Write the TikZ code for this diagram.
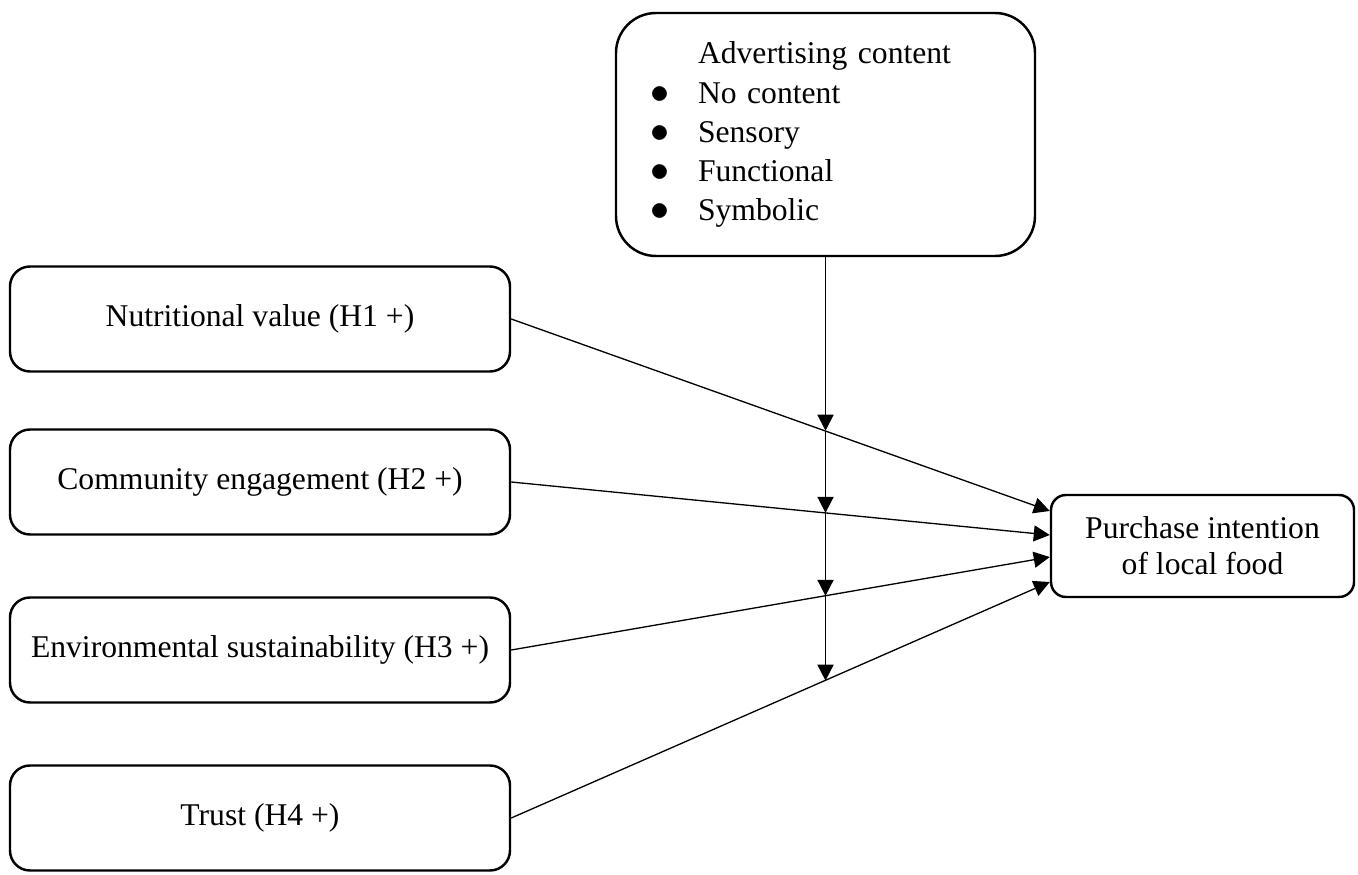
\documentclass[tikz,border=0pt]{standalone}
\usepackage{fontspec}
\setmainfont{Liberation Serif}
\usepackage{tikz}
\usetikzlibrary{calc,arrows.meta}

\newcommand{\bigbullet}{\scalebox{1.25}{$\bullet$}}

\tikzset{
    factor/.style={draw, line width=1.4pt, rounded corners=0.4cm,
        minimum width=10cm, minimum height=2.1cm,
        font=\fontsize{18}{22.3}\selectfont},
    moderator/.style={draw, line width=1.4pt, rounded corners=0.8cm,
        minimum width=8.38cm, minimum height=4.86cm, text width=7.02cm,
        inner xsep=0.68cm, align=left, font=\fontsize{18}{22.3}\selectfont},
    outcome/.style={draw, line width=1.4pt, rounded corners=0.3cm,
        minimum width=6.06cm, minimum height=2.04cm, align=center,
        font=\fontsize{18}{20.5}\selectfont},
    >={Triangle[length=0.32cm, width=0.32cm]}
}

\begin{document}
\begin{tikzpicture}
        \useasboundingbox (0,0) rectangle (27.16,-17.5);

        \node[moderator] (adv) at (16.51,-2.69) {%
            \begin{tabular}{@{}p{0.96cm}@{}l@{}}
                & Advertising content\\
                \bigbullet & No content\\
                \bigbullet & Sensory\\
                \bigbullet & Functional\\
                \bigbullet & Symbolic
            \end{tabular}};
        \node[outcome] (pi) at (24.05,-10.92) {Purchase intention\\of local food};

        \foreach \i/\y/\dy/\txt in {1/-6.38/0.7/Nutritional value (H1 +),
                                    2/-9.64/0.22/Community engagement (H2 +),
                                    3/-13.0/-0.22/Environmental sustainability (H3 +),
                                    4/-16.36/-0.72/Trust (H4 +)}{
            \node[factor] (f\i) at (5.2,\y) {\txt};
            \draw[->, line width=0.75pt]
                (f\i.east) -- coordinate[pos=0.582] (x\i) ([yshift=\dy cm]pi.west);
        }

        \coordinate (x0) at (adv.south);
        \foreach \i [remember=\i as \j (initially 0)] in {1,...,4}{
            \draw[->, line width=1pt] (adv.south |- x\j) -- (adv.south |- x\i);
        }
    \end{tikzpicture}
\end{document}
